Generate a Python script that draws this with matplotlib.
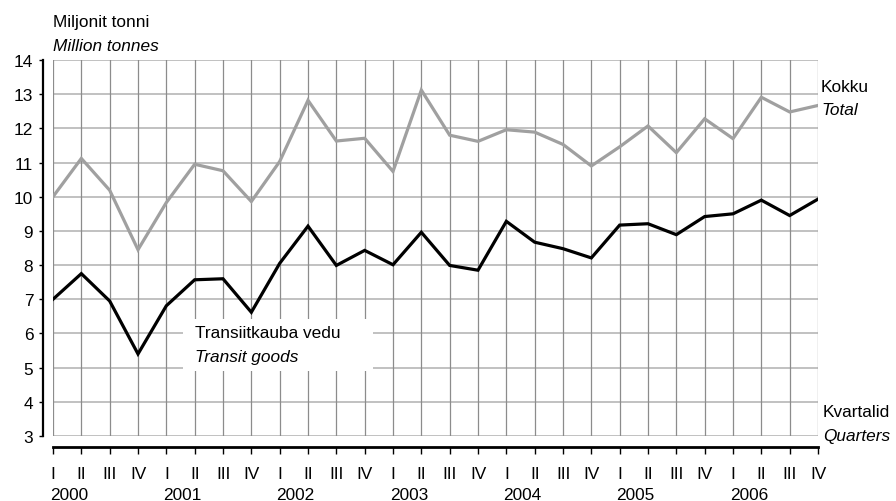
import numpy as np
import matplotlib
matplotlib.use("Agg")
from matplotlib import pyplot as plt
from matplotlib.patches import Rectangle

plt.rcParams['font.family'] = ['Liberation Sans', 'DejaVu Sans']

years = ['2000', '2001', '2002', '2003', '2004', '2005', '2006']
quarters = ['I', 'II', 'III', 'IV']

# million tonnes per quarter, 2000 I .. 2006 IV
total = [10.0, 11.12, 10.19, 8.45,
         9.83, 10.95, 10.76, 9.86,
         11.03, 12.82, 11.63, 11.71,
         10.74, 13.12, 11.80, 11.62,
         11.96, 11.89, 11.53, 10.90,
         11.46, 12.07, 11.29, 12.28,
         11.70, 12.91, 12.48, 12.67]
transit = [7.0, 7.75, 6.95, 5.40,
           6.81, 7.57, 7.60, 6.62,
           8.05, 9.14, 7.99, 8.43,
           8.01, 8.96, 7.99, 7.85,
           9.28, 8.67, 8.48, 8.21,
           9.17, 9.21, 8.89, 9.42,
           9.50, 9.90, 9.45, 9.93]

W, H = 896, 502
fig = plt.figure(figsize=(W / 100, H / 100), dpi=100)
ax = fig.add_axes([53 / W, 1 - 437 / H, (818 - 53) / W, (437 - 61) / H])

x = np.arange(len(total))
ax.set_xlim(0, len(total) - 1)
ax.set_ylim(3, 14)

# grid
for yv in range(4, 15):
    ax.axhline(yv, color='#b0b0b0', lw=1.1, zorder=1)
ax.axhline(3, color='#b0b0b0', lw=1.1, zorder=1)
for xv in x:
    ax.axvline(xv, color='#8c8c8c', lw=0.9, zorder=1)

# white box behind the transit label
ax.add_patch(Rectangle((4.59, 4.9), 6.71, 1.52, facecolor='white',
                       edgecolor='none', zorder=2))

ax.plot(x, total, color='#a0a0a0', lw=2.3, zorder=3, solid_joinstyle='miter')
ax.plot(x, transit, color='black', lw=2.3, zorder=4, solid_joinstyle='miter')

ax.text(5.01, 5.9, 'Transiitkauba vedu', fontsize=12.4, va='baseline', zorder=5)
ax.text(5.01, 5.2, 'Transit goods', fontsize=12.4, style='italic',
        va='baseline', zorder=5)

for s in ['top', 'right']:
    ax.spines[s].set_visible(False)
ax.spines['left'].set_position(('outward', 7.2))
ax.spines['bottom'].set_position(('outward', 7.9))
ax.spines['left'].set_linewidth(1.6)
ax.spines['bottom'].set_linewidth(2.0)

ax.set_yticks(range(3, 15))
ax.tick_params(axis='y', length=3, width=1, pad=4, labelsize=12.4)
ax.set_xticks(x)
ax.set_xticklabels([quarters[i % 4] for i in x])
ax.tick_params(axis='x', length=5, width=1, pad=9, labelsize=12.4)

for k, yr in enumerate(years):
    ax.annotate(yr, xy=(4 * k, 0), xycoords=('data', 'axes fraction'),
                xytext=(-2.2, -45.5), textcoords='offset points',
                ha='left', va='baseline', fontsize=12.4)

def ftext(px, py, s, **kw):
    fig.text(px / W, 1 - py / H, s, fontsize=12.4, va='baseline', **kw)

ftext(53, 27, 'Miljonit tonni')
ftext(53, 51, 'Million tonnes', style='italic')
ftext(821, 92, 'Kokku')
ftext(821, 115, 'Total', style='italic')
ftext(823, 417, 'Kvartalid')
ftext(823, 441, 'Quarters', style='italic')

fig.savefig('out.png', dpi=100)
